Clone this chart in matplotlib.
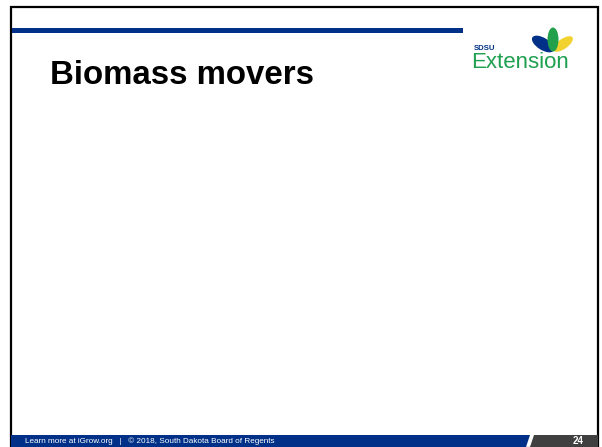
import matplotlib
matplotlib.use("Agg")
import matplotlib.pyplot as plt
from matplotlib.patches import Rectangle, Polygon, Ellipse

plt.rcParams['font.family'] = ['Liberation Sans', 'DejaVu Sans']

# slide content
title = "Biomass movers"
footer_text = "Learn more at iGrow.org   |   \u00a9 2018, South Dakota Board of Regents"
page_number = "24"
logo_small = "SDSU"
logo_big = "Extension"

navy = "#003087"
gray = "#404040"
green = "#1fa050"

W, H = 602, 447
fig = plt.figure(figsize=(W / 100, H / 100), dpi=100)
ax = fig.add_axes([0, 0, 1, 1])
ax.set_xlim(0, W)
ax.set_ylim(H, 0)
ax.axis('off')

# slide border
ax.add_patch(Rectangle((11, 6.5), 587, 441, fill=False, ec='black', lw=1.6))

# header rule
ax.add_patch(Rectangle((12, 28), 451, 5, color=navy, lw=0))

# footer bar
ax.add_patch(Polygon([(11, 435), (530, 435), (526, 447), (11, 447)], color=navy, lw=0))
ax.add_patch(Polygon([(534, 435), (598, 435), (598, 447), (530, 447)], color=gray, lw=0))
ax.text(25, 441.5, footer_text, color='white', fontsize=5.9, va='center', ha='left')
ax.text(584, 441, page_number, color='white', fontsize=7, fontweight='bold', va='center', ha='right')

# title
ax.text(50, 84, title, fontsize=23.8, fontweight='bold', va='baseline', ha='left')

# logo
ax.text(474, 48.5, logo_small, fontsize=5.6, color=navy, fontweight='bold', va='center', ha='left')
ax.text(471, 62.5, logo_big, fontsize=16, color=green, va='center', ha='left')
ax.add_patch(Ellipse((543, 44), 25, 12, angle=32, color=navy, lw=0))
ax.add_patch(Ellipse((563, 44), 23, 10, angle=-35, color='#f2d22e', lw=0))
ax.add_patch(Ellipse((553, 39.5), 11, 24, angle=0, color='#22a04b', lw=0))

fig.savefig("out.png", dpi=100)
